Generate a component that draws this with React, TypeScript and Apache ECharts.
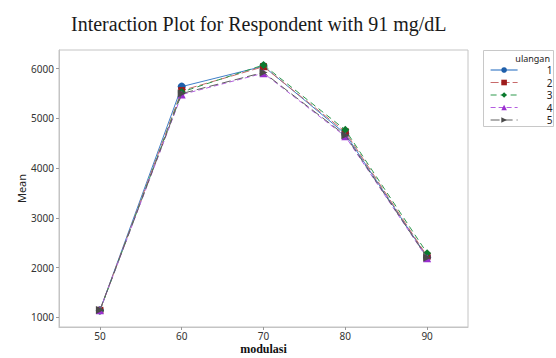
import React, { useEffect, useRef } from "react";
import * as echarts from "echarts";

const modulasi = [50, 60, 70, 80, 90];
const ulangan = ["1", "2", "3", "4", "5"];
const mean1 = [1140, 5640, 6050, 4690, 2210];
const mean2 = [1140, 5560, 6040, 4730, 2230];
const mean3 = [1130, 5530, 6075, 4770, 2290];
const mean4 = [1140, 5480, 5910, 4640, 2190];
const mean5 = [1145, 5500, 5925, 4660, 2200];
const yTicks = [1000, 2000, 3000, 4000, 5000, 6000];
const xTicks = [50, 60, 70, 80, 90];

const seriesValues = [mean1, mean2, mean3, mean4, mean5];
const lineColors = ["#3f7fc8", "#c86a6a", "#2f9a4f", "#b45ee0", "#606060"];
const markerColors = ["#1f5faa", "#9e1c1c", "#0b7a2e", "#9a2fd0", "#4a4a4a"];
const symbols = ["circle", "rect", "diamond", "triangle", "triangle"];
const symbolRotates = [0, 0, 0, 0, -90];
const dashTypes: any[] = ["solid", [8, 3], [6, 4], [5, 3], [9, 4]];

export default function App() {
  const ref = useRef<HTMLDivElement>(null);
  useEffect(() => {
    if (!ref.current) return;
    const chart = echarts.init(ref.current, undefined, { renderer: "svg" });
    chart.setOption({
      animation: false,
      backgroundColor: "#ffffff",
      title: {
        text: "Interaction Plot for Respondent with 91 mg/dL",
        left: 66,
        top: 9,
        textStyle: {
          fontFamily: "Liberation Serif",
          fontSize: 20,
          fontWeight: "normal",
          color: "#1a1a1a",
        },
      },
      grid: {
        left: 59,
        right: 88,
        top: 50,
        bottom: 31,
        containLabel: false,
        outerBoundsMode: "none",
        show: true,
        borderColor: "#c4c4c4",
        borderWidth: 1,
        backgroundColor: "#fff",
      },
      legend: {
        orient: "vertical",
        left: 485,
        top: 60,
        itemWidth: 27,
        itemHeight: 7,
        itemGap: 2.5,
        selectedMode: false,
        data: ulangan.map((n) => "" + n),
        formatter: (n: string) => "{a|" + n + "}",
        lineStyle: { width: 1.2 },
        textStyle: {
          fontFamily: "Noto Sans",
          fontSize: 10,
          color: "#222",
          rich: { a: { width: 30, align: "right", fontSize: 10, lineHeight: 9, fontFamily: "Noto Sans", color: "#222" } },
        },
      },
      graphic: [
        {
          type: "rect",
          shape: { x: 483.5, y: 50.5, width: 70, height: 76 },
          style: { fill: "none", stroke: "#c8c8c8", lineWidth: 1 },
          z: -1,
        },
        {
          type: "text",
          x: 550,
          y: 54,
          style: {
            text: "ulangan",
            align: "right",
            fontFamily: "Noto Sans",
            fontSize: 9,
            fill: "#222",
          },
        },
      ],
      xAxis: {
        type: "value",
        min: 45,
        max: 95,
        name: "modulasi",
        nameLocation: "middle",
        nameGap: 16,
        nameMoveOverlap: false,
        nameTextStyle: {
          fontFamily: "Liberation Serif",
          fontWeight: "bold",
          fontSize: 12,
          color: "#111",
        },
        splitLine: { show: false },
        axisLine: { lineStyle: { color: "#c4c4c4" } },
        axisTick: { show: true, length: 3, customValues: xTicks, lineStyle: { color: "#999" } },
        axisLabel: {
          customValues: xTicks,
          formatter: (v: number) => String(v),
          fontFamily: "Noto Sans",
          fontSize: 10,
          color: "#333",
          margin: 4,
        },
      },
      yAxis: {
        type: "value",
        min: 805,
        max: 6376,
        name: "Mean",
        nameLocation: "middle",
        nameGap: 32,
        nameMoveOverlap: false,
        nameTextStyle: { fontFamily: "Noto Sans", fontSize: 11, color: "#222" },
        splitLine: { show: false },
        axisLine: { show: true, lineStyle: { color: "#c4c4c4" } },
        axisTick: { show: true, length: 3, customValues: yTicks, lineStyle: { color: "#999" } },
        axisLabel: {
          customValues: yTicks,
          formatter: (v: number) => String(v),
          fontFamily: "Noto Sans",
          fontSize: 10,
          color: "#333",
          margin: 5,
        },
      },
      series: seriesValues.map((vals, i) => ({
        name: ulangan[i],
        type: "line",
        data: modulasi.map((x, j) => [x, vals[j]]),
        symbol: symbols[i],
        symbolSize: i === 1 ? 7 : 8,
        symbolRotate: symbolRotates[i],
        showSymbol: true,
        itemStyle: { color: markerColors[i] },
        lineStyle: { color: lineColors[i], width: 1, type: dashTypes[i] },
        z: 2 + i,
      })),
    });
    return () => chart.dispose();
  }, []);
  return (
    <div
      ref={ref}
      style={{ position: "fixed", left: 0, top: 0, width: 556, height: 358 }}
    />
  );
}
